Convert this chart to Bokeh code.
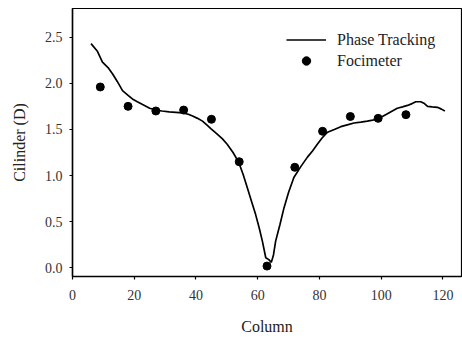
from bokeh.plotting import figure
from bokeh.models import Range1d, FixedTicker, Legend, LegendItem
from bokeh.embed import file_html
from bokeh.resources import INLINE

# Phase tracking measurement (continuous curve)
track_col = [6, 8, 9.7, 11.5, 13, 14.5, 16.2, 18, 19.4, 21, 22.7, 25, 27, 29, 31.3,
             33.5, 35.7, 37.5, 38.9, 40.5, 42.1, 43.5, 44.8, 46.5, 48.5, 50.1, 52,
             53.9, 55.3, 56.6, 58, 59.3, 60.5, 61.5, 62.6, 63.6, 64.4, 65.1, 65.8,
             67.2, 68.5, 70, 71.7, 74, 76.1, 77.8, 79.3, 80.9, 82.6, 84.8, 86.9, 89,
             91.2, 93.4, 95.5, 97.2, 98.8, 100.4, 102, 103.6, 105.2, 106.9, 108.5,
             110, 111.2, 112.8, 114, 115, 116.5, 118.2, 119.5, 120.6]
track_cyl = [2.43, 2.35, 2.23, 2.17, 2.10, 2.02, 1.92, 1.87, 1.83, 1.80, 1.77, 1.73,
             1.71, 1.70, 1.69, 1.685, 1.68, 1.665, 1.645, 1.62, 1.59, 1.55, 1.51, 1.46,
             1.40, 1.34, 1.25, 1.14, 1.01, 0.87, 0.72, 0.58, 0.43, 0.29, 0.11, 0.09,
             0.06, 0.14, 0.29, 0.47, 0.65, 0.82, 0.98, 1.10, 1.20, 1.27, 1.34, 1.41,
             1.47, 1.50, 1.53, 1.55, 1.57, 1.58, 1.59, 1.60, 1.61, 1.64, 1.67, 1.70,
             1.73, 1.745, 1.76, 1.78, 1.80, 1.80, 1.78, 1.75, 1.745, 1.74, 1.72, 1.70]

# Focimeter readings
foci_col = [9, 18, 27, 36, 45, 54, 63, 72, 81, 90, 99, 108]
foci_cyl = [1.96, 1.75, 1.70, 1.71, 1.61, 1.15, 0.02, 1.09, 1.48, 1.64, 1.62, 1.66]

x_ticks = [0, 20, 40, 60, 80, 100, 120]
y_ticks = [0.0, 0.5, 1.0, 1.5, 2.0, 2.5]

FONT = "Liberation Serif"

p = figure(width=462, height=338, output_backend="svg", toolbar_location=None,
           x_range=Range1d(0, 126), y_range=Range1d(-0.093, 2.81),
           min_border_left=72, min_border_right=1, min_border_top=8,
           min_border_bottom=62)
p.xgrid.visible = False
p.ygrid.visible = False
p.background_fill_color = "white"
p.border_fill_color = "white"
p.outline_line_color = "black"
p.outline_line_width = 1.2

line_r = p.line(track_col, track_cyl, line_color="black", line_width=1.7)
dots_r = p.scatter(foci_col, foci_cyl, size=8, fill_color="black", line_color="black")

for ax in (p.xaxis[0], p.yaxis[0]):
    ax.axis_line_width = 1.5
    ax.axis_line_color = "black"
    ax.major_tick_line_color = "black"
    ax.major_tick_line_width = 1.2
    ax.major_tick_in = 0
    ax.major_tick_out = 3
    ax.minor_tick_line_color = None
    ax.major_label_text_font = FONT
    ax.major_label_text_font_size = "14px"
    ax.major_label_text_color = "#333333"
    ax.axis_label_text_font = FONT
    ax.axis_label_text_font_size = "16px"
    ax.axis_label_text_font_style = "normal"
    ax.axis_label_text_color = "#222222"

p.xaxis[0].ticker = FixedTicker(ticks=x_ticks)
p.yaxis[0].ticker = FixedTicker(ticks=y_ticks)
p.yaxis[0].major_label_overrides = {t: f"{t:.1f}" for t in y_ticks}
p.xaxis[0].axis_label = "Column"
p.yaxis[0].axis_label = "Cilinder (D)"
p.xaxis[0].major_label_standoff = 10
p.xaxis[0].axis_label_standoff = 15
p.yaxis[0].major_label_standoff = 7
p.yaxis[0].axis_label_standoff = 14

legend = Legend(items=[LegendItem(label="Phase Tracking", renderers=[line_r]),
                       LegendItem(label="Focimeter", renderers=[dots_r])],
                location=(214, 205), orientation="vertical",
                border_line_color=None, background_fill_alpha=0,
                label_text_font=FONT, label_text_font_size="16px",
                label_text_color="#222222",
                glyph_width=40, glyph_height=21, label_height=21,
                label_standoff=11, spacing=0, padding=0, margin=0)
p.add_layout(legend, "center")

open("out.html", "w").write(file_html(p, INLINE))
